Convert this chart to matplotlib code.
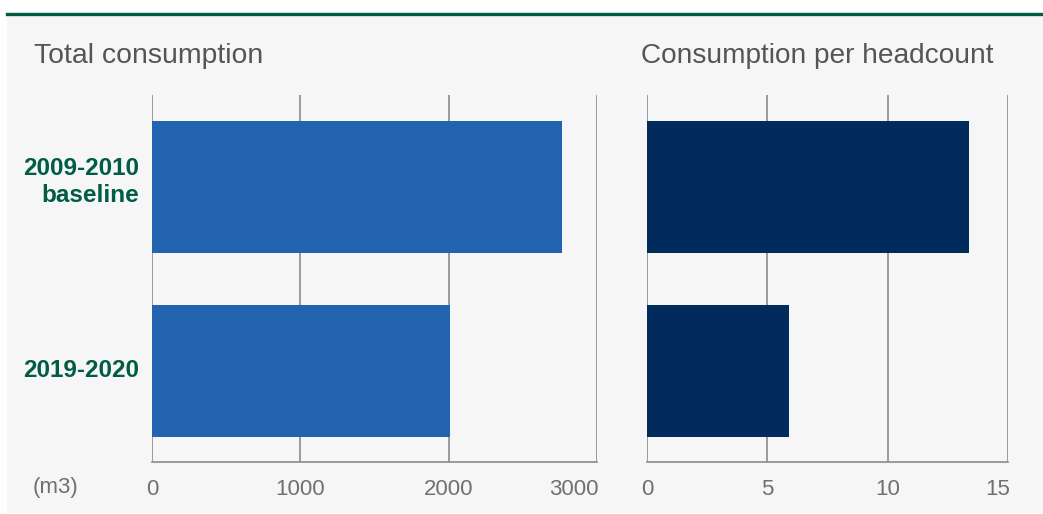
#!/usr/bin/env python3
"""
Water consumption: total vs per headcount, baseline vs 2019-2020.
"""

import matplotlib
matplotlib.use('Agg')
import matplotlib.pyplot as plt
import matplotlib.transforms as mtransforms
from matplotlib.patches import Rectangle

periods = ['2009-2010\nbaseline', '2019-2020']
total_m3 = [2766, 2010]
per_headcount = [13.37, 5.9]
total_ticks = [0, 1000, 2000, 3000]
head_ticks = [0, 5, 10, 15]

GREEN = '#005c45'
BG = '#f6f6f6'
GRID = '#8a8a8a'
TICK_TXT = '#707070'
TITLE_TXT = '#555555'


def style_axis(ax, ticks):
	ax.set_facecolor(BG)
	for side in ['top', 'right', 'left']:
		ax.spines[side].set_visible(False)
	ax.spines['bottom'].set_color(GRID)
	ax.spines['bottom'].set_linewidth(1.2)
	ax.set_xlim(ticks[0], ticks[-1])
	ax.set_ylim(1.495, -0.5)
	ax.set_xticks(ticks)
	ax.xaxis.grid(True, color=GRID, linewidth=1.2)
	ax.set_axisbelow(True)
	ax.tick_params(axis='x', length=0, pad=12, labelsize=16, labelcolor=TICK_TXT)
	ax.tick_params(axis='y', length=0)
	# last label sits inside the axis, right-aligned on the gridline
	last = ax.get_xticklabels()[-1]
	last.set_ha('right')
	last.set_transform(last.get_transform() + mtransforms.ScaledTranslation(2 / 100, 0, ax.figure.dpi_scale_trans))


def main() -> None:
	plt.rcParams['font.family'] = ['Liberation Sans', 'DejaVu Sans']
	fig = plt.figure(figsize=(10.43, 5.14), dpi=100)
	fig.patch.set_facecolor('white')
	fig.patches.append(Rectangle((7 / 1043, 0.002), 1, 1 - 15 / 514, transform=fig.transFigure,
								 facecolor=BG, edgecolor='none', zorder=-10))
	fig.add_artist(plt.Line2D([7 / 1043, 1], [1 - 13.5 / 514] * 2, color=GREEN, linewidth=2.4))

	ypos = list(range(len(periods)))

	ax1 = fig.add_axes([152 / 1043, 1 - 462 / 514, 445 / 1043, 367 / 514])
	style_axis(ax1, total_ticks)
	ax1.barh(ypos, total_m3, height=0.717, color='#2364b0', zorder=3)
	ax1.set_yticks(ypos)
	ax1.set_yticklabels(periods, fontsize=17.5, fontweight='bold', color=GREEN,
						ha='right', linespacing=1.2)
	ax1.tick_params(axis='y', pad=9)
	for lbl, dy in zip(ax1.get_yticklabels(), [9, 3]):
		lbl.set_transform(lbl.get_transform() + mtransforms.ScaledTranslation(0, dy / 100, fig.dpi_scale_trans))

	ax2 = fig.add_axes([647 / 1043, 1 - 462 / 514, 361 / 1043, 367 / 514])
	style_axis(ax2, head_ticks)
	ax2.barh(ypos, per_headcount, height=0.717, color='#002b5c', zorder=3)
	ax2.set_yticks([])

	fig.text(34 / 1043, 1 - 63 / 514, 'Total consumption', fontsize=20.4, color=TITLE_TXT, va='baseline')
	fig.text(641 / 1043, 1 - 63 / 514, 'Consumption per headcount', fontsize=20.2, color=TITLE_TXT, va='baseline')
	fig.text(33 / 1043, 1 - 488 / 514, '(m3)', fontsize=16, color=TICK_TXT, va='center')

	fig.savefig('out.png', dpi=100, facecolor=fig.get_facecolor())


if __name__ == '__main__':
	main()
